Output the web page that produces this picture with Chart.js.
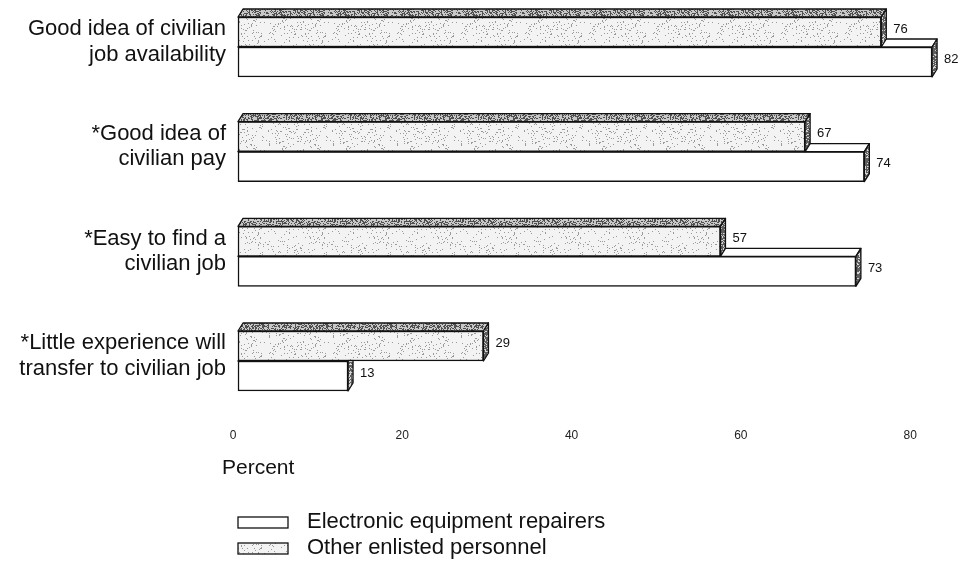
<!DOCTYPE html>
<html>
<head>
<meta charset="utf-8">
<script src="https://cdn.jsdelivr.net/npm/chart.js@4/dist/chart.umd.min.js"></script>
<style>
  html, body { margin: 0; padding: 0; background: #fff; }
</style>
</head>
<body>
<canvas id="myChart" width="967" height="566"></canvas>
<script>
// setup
const categories = [
  ['Good idea of civilian', 'job availability'],
  ['*Good idea of', 'civilian pay'],
  ['*Easy to find a', 'civilian job'],
  ['*Little experience will', 'transfer to civilian job']
];
const otherLabel = 'Other enlisted personnel';
const repairLabel = 'Electronic equipment repairers';
const otherValues = [76, 67, 57, 29];
const repairValues = [82, 74, 73, 13];
const tickValues = [0, 20, 40, 60, 80];
const axisTitle = 'Percent';

const FONT = "'Liberation Sans', Arial, Helvetica, sans-serif";
const depthX = 5, depthY = 8;

// stipple texture, fixed hash so it looks the same every run
function stipple(base, dot, density, seed) {
  const c = document.createElement('canvas');
  c.width = 64; c.height = 64;
  const g = c.getContext('2d');
  g.fillStyle = base;
  g.fillRect(0, 0, 64, 64);
  g.fillStyle = dot;
  for (let y = 0; y < 64; y++) {
    for (let x = 0; x < 64; x++) {
      let h = Math.imul(x, 374761393) + Math.imul(y, 668265263) + seed;
      h = Math.imul(h ^ (h >>> 13), 1274126177);
      h = (h ^ (h >>> 16)) >>> 0;
      if (h % 1000 < density * 1000) g.fillRect(x, y, 1, 1);
    }
  }
  return g.createPattern(c, 'repeat');
}
const grayFront = stipple('#f3f3f3', '#9a9a9a', 0.07, 7);
const grayTop = stipple('#c8c8c8', '#505050', 0.42, 11);
const sideFill = stipple('#5e5e5e', '#d5d5d5', 0.3, 23);

const data = {
  labels: categories,
  datasets: [{
    label: otherLabel,
    data: otherValues,
    backgroundColor: grayFront,
    topFill: grayTop,
    borderColor: '#111',
    borderWidth: 1.5,
    borderSkipped: false,
    barThickness: 30,
    clip: false
  }, {
    label: repairLabel,
    data: repairValues,
    backgroundColor: '#ffffff',
    topFill: '#ffffff',
    borderColor: '#111',
    borderWidth: 1.5,
    borderSkipped: false,
    barThickness: 30,
    clip: false
  }]
};

// top and end faces of each bar, value labels, title and legend
const bar3d = {
  id: 'bar3d',
  afterDatasetDraw(chart, args) {
    const ctx = chart.ctx;
    const ds = chart.data.datasets[args.index];
    ctx.save();
    ctx.lineWidth = 1.3;
    ctx.strokeStyle = '#111';
    ctx.lineJoin = 'round';
    args.meta.data.forEach(bar => {
      const { x, y, base, height } = bar.getProps(['x', 'y', 'base', 'height'], true);
      const top = y - height / 2, bottom = y + height / 2;
      ctx.beginPath();
      ctx.moveTo(base, top);
      ctx.lineTo(base + depthX, top - depthY);
      ctx.lineTo(x + depthX, top - depthY);
      ctx.lineTo(x, top);
      ctx.closePath();
      ctx.fillStyle = ds.topFill;
      ctx.fill();
      ctx.stroke();
      ctx.beginPath();
      ctx.moveTo(x, top);
      ctx.lineTo(x + depthX, top - depthY);
      ctx.lineTo(x + depthX, bottom - depthY);
      ctx.lineTo(x, bottom);
      ctx.closePath();
      ctx.fillStyle = sideFill;
      ctx.fill();
      ctx.stroke();
    });
    ctx.restore();
  },
  afterDatasetsDraw(chart) {
    const ctx = chart.ctx;
    ctx.save();
    ctx.font = '13px ' + FONT;
    ctx.fillStyle = '#111';
    ctx.textAlign = 'left';
    ctx.textBaseline = 'middle';
    chart.data.datasets.forEach((ds, i) => {
      chart.getDatasetMeta(i).data.forEach((bar, j) => {
        ctx.fillText(String(ds.data[j]), bar.x + depthX + 7, bar.y - 3);
      });
    });
    ctx.restore();
  },
  afterDraw(chart) {
    const ctx = chart.ctx;
    ctx.save();
    ctx.fillStyle = '#111';
    ctx.font = '21px ' + FONT;
    ctx.textBaseline = 'middle';
    ctx.fillText(axisTitle, 222, 468);
    // legend, repairers first
    ctx.font = '22px ' + FONT;
    const rows = [
      { label: repairLabel, fill: '#ffffff', y: 522 },
      { label: otherLabel, fill: grayFront, y: 548 }
    ];
    rows.forEach(r => {
      ctx.fillStyle = r.fill;
      ctx.fillRect(238, r.y - 5, 50, 11);
      ctx.lineWidth = 1.3;
      ctx.strokeStyle = '#111';
      ctx.strokeRect(238, r.y - 5, 50, 11);
      ctx.fillStyle = '#111';
      ctx.fillText(r.label, 307, r.y);
    });
    ctx.restore();
  }
};

// config
const config = {
  type: 'bar',
  data,
  options: {
    indexAxis: 'y',
    responsive: false,
    animation: false,
    layout: { padding: { top: 47, right: 18, bottom: 124, left: 0 } },
    plugins: {
      legend: { display: false },
      tooltip: { enabled: false }
    },
    scales: {
      y: {
        type: 'category',
        offset: false,
        grid: { display: false, drawTicks: false },
        border: { display: false },
        ticks: {
          font: { family: FONT, size: 22, lineHeight: 1.15 },
          color: '#111',
          padding: 12,
          labelOffset: -5
        },
        afterFit(scale) { scale.width = 238; }
      },
      x: {
        type: 'linear',
        min: 0,
        max: 84,
        grid: { display: false, drawTicks: false },
        border: { display: false },
        afterBuildTicks(scale) { scale.ticks = tickValues.map(v => ({ value: v })); },
        afterFit(scale) {
          scale.height = 81;
          scale.paddingLeft = 0;
          scale.paddingRight = 0;
        },
        ticks: {
          font: { family: FONT, size: 12 },
          color: '#222',
          padding: 67,
          labelOffset: -5
        }
      }
    }
  },
  plugins: [bar3d]
};

// render init block
const myChart = new Chart(document.getElementById('myChart'), config);
</script>
</body>
</html>
